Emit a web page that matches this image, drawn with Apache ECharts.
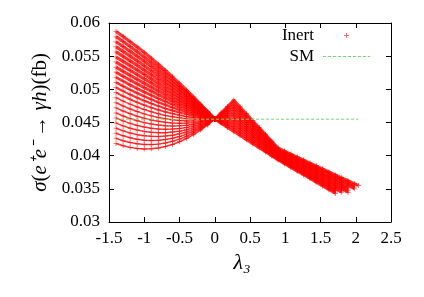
<!DOCTYPE html>
<html><head><meta charset="utf-8">
<script src="https://cdn.jsdelivr.net/npm/echarts@6/dist/echarts.min.js"></script>
<style>html,body{margin:0;padding:0;background:#fff}#c{width:424px;height:297px}</style>
</head><body><div id="c"></div>
<script>
// ---- data ----
const X_TICK_LABELS = ['-1.5','-1','-0.5','0','0.5','1','1.5','2','2.5'];
const Y_TICK_LABELS = ['0.03','0.035','0.04','0.045','0.05','0.055','0.06'];
const CENTER = [0, 0.0455];
// left family (lambda3 < 0): one row per lambda3 value, one entry per scan curve
const LEFT_X = [-1.4,-1.3,-1.2,-1.1,-1.0,-0.9,-0.8,-0.7,-0.6,-0.5,-0.4,-0.3,-0.2,-0.1];
const LEFT_Y = [
 [0.04184,0.04261,0.04338,0.04414,0.04491,0.04568,0.04644,0.04721,0.04797,0.04874,0.04951,0.05027,0.05104,0.05181,0.05257,0.05334,0.05411,0.05487,0.05564,0.05641,0.05717,0.05794,0.05871],
 [0.04150,0.04225,0.04299,0.04374,0.04449,0.04524,0.04599,0.04674,0.04748,0.04823,0.04898,0.04973,0.05048,0.05123,0.05197,0.05272,0.05347,0.05422,0.05497,0.05571,0.05646,0.05721,0.05796],
 [0.04125,0.04197,0.04269,0.04342,0.04414,0.04487,0.04559,0.04632,0.04704,0.04777,0.04849,0.04921,0.04994,0.05066,0.05139,0.05211,0.05284,0.05356,0.05429,0.05501,0.05573,0.05646,0.05718],
 [0.04109,0.04178,0.04248,0.04317,0.04387,0.04456,0.04526,0.04595,0.04665,0.04734,0.04804,0.04873,0.04943,0.05012,0.05082,0.05151,0.05221,0.05290,0.05360,0.05429,0.05499,0.05568,0.05638],
 [0.04102,0.04168,0.04234,0.04300,0.04366,0.04432,0.04498,0.04564,0.04630,0.04696,0.04762,0.04828,0.04894,0.04960,0.05026,0.05092,0.05158,0.05224,0.05290,0.05356,0.05422,0.05488,0.05554],
 [0.04105,0.04167,0.04229,0.04291,0.04353,0.04414,0.04476,0.04538,0.04600,0.04662,0.04724,0.04786,0.04848,0.04910,0.04972,0.05034,0.05096,0.05158,0.05220,0.05281,0.05343,0.05405,0.05467],
 [0.04117,0.04174,0.04232,0.04289,0.04346,0.04403,0.04461,0.04518,0.04575,0.04633,0.04690,0.04747,0.04805,0.04862,0.04919,0.04976,0.05034,0.05091,0.05148,0.05206,0.05263,0.05320,0.05378],
 [0.04138,0.04190,0.04243,0.04295,0.04347,0.04399,0.04451,0.04503,0.04555,0.04607,0.04659,0.04712,0.04764,0.04816,0.04868,0.04920,0.04972,0.05024,0.05076,0.05128,0.05181,0.05233,0.05285],
 [0.04169,0.04216,0.04262,0.04308,0.04355,0.04401,0.04447,0.04494,0.04540,0.04586,0.04633,0.04679,0.04725,0.04772,0.04818,0.04864,0.04911,0.04957,0.05004,0.05050,0.05096,0.05143,0.05189],
 [0.04209,0.04249,0.04289,0.04329,0.04369,0.04410,0.04450,0.04490,0.04530,0.04570,0.04610,0.04650,0.04690,0.04730,0.04770,0.04810,0.04850,0.04890,0.04930,0.04970,0.05010,0.05050,0.05090],
 [0.04259,0.04292,0.04325,0.04358,0.04391,0.04425,0.04458,0.04491,0.04524,0.04557,0.04590,0.04623,0.04657,0.04690,0.04723,0.04756,0.04789,0.04822,0.04856,0.04889,0.04922,0.04955,0.04988],
 [0.04318,0.04343,0.04369,0.04395,0.04420,0.04446,0.04472,0.04498,0.04523,0.04549,0.04575,0.04600,0.04626,0.04652,0.04677,0.04703,0.04729,0.04755,0.04780,0.04806,0.04832,0.04857,0.04883],
 [0.04386,0.04403,0.04421,0.04439,0.04457,0.04474,0.04492,0.04510,0.04527,0.04545,0.04563,0.04580,0.04598,0.04616,0.04634,0.04651,0.04669,0.04687,0.04704,0.04722,0.04740,0.04757,0.04775],
 [0.04463,0.04472,0.04482,0.04491,0.04500,0.04509,0.04518,0.04527,0.04536,0.04545,0.04555,0.04564,0.04573,0.04582,0.04591,0.04600,0.04609,0.04618,0.04628,0.04637,0.04646,0.04655,0.04664]
];
// right family (lambda3 > 0): one row per scan curve, one entry per lambda3 value
const RIGHT_X = [0,0.09,0.18,0.27,0.36,0.45,0.54,0.63,0.72,0.81,0.90,0.99,1.08,1.17,1.26,1.35,1.44,1.53,1.62,1.71,1.80,1.89,1.98,2.04];
const RIGHT_Y = [
 [0.0455,0.04487,0.04424,0.04361,0.04300,0.04239,0.04177,0.04116,0.04055,0.03994,0.03933,0.03877,0.03821,0.03765,0.03709,0.03654,0.03598,0.03542,0.03486,0.03430,null,null,null,null],
 [0.0455,0.04500,0.04451,0.04401,0.04336,0.04272,0.04207,0.04142,0.04077,0.04013,0.03948,0.03893,0.03838,0.03783,0.03728,0.03674,0.03619,0.03564,0.03509,0.03454,null,null,null,null],
 [0.0455,0.04514,0.04477,0.04441,0.04373,0.04304,0.04236,0.04168,0.04100,0.04031,0.03963,0.03909,0.03855,0.03801,0.03747,0.03693,0.03640,0.03586,0.03532,0.03478,null,null,null,null],
 [0.0455,0.04527,0.04504,0.04481,0.04409,0.04337,0.04265,0.04194,0.04122,0.04050,0.03978,0.03925,0.03872,0.03819,0.03766,0.03713,0.03660,0.03607,0.03554,0.03501,0.03448,null,null,null],
 [0.0455,0.04540,0.04530,0.04521,0.04445,0.04370,0.04295,0.04220,0.04144,0.04069,0.03994,0.03942,0.03889,0.03837,0.03785,0.03733,0.03681,0.03629,0.03577,0.03525,0.03473,null,null,null],
 [0.0455,0.04554,0.04557,0.04561,0.04482,0.04403,0.04324,0.04245,0.04167,0.04088,0.04009,0.03958,0.03907,0.03855,0.03804,0.03753,0.03702,0.03651,0.03600,0.03549,0.03497,0.03446,null,null],
 [0.0455,0.04567,0.04584,0.04601,0.04518,0.04436,0.04354,0.04271,0.04189,0.04106,0.04024,0.03974,0.03924,0.03873,0.03823,0.03773,0.03723,0.03673,0.03622,0.03572,0.03522,0.03472,null,null],
 [0.0455,0.04580,0.04610,0.04640,0.04555,0.04469,0.04383,0.04297,0.04211,0.04125,0.04039,0.03990,0.03941,0.03891,0.03842,0.03793,0.03744,0.03694,0.03645,0.03596,0.03546,0.03497,null,null],
 [0.0455,0.04593,0.04637,0.04680,0.04591,0.04502,0.04412,0.04323,0.04233,0.04144,0.04055,0.04006,0.03958,0.03909,0.03861,0.03813,0.03764,0.03716,0.03668,0.03619,0.03571,0.03523,null,null],
 [0.0455,0.04607,0.04664,0.04720,0.04627,0.04534,0.04441,0.04349,0.04256,0.04163,0.04070,0.04022,0.03975,0.03927,0.03880,0.03833,0.03785,0.03738,0.03690,0.03643,0.03595,0.03548,0.03501,null],
 [0.0455,0.04620,0.04690,0.04760,0.04664,0.04567,0.04471,0.04374,0.04278,0.04182,0.04085,0.04039,0.03992,0.03946,0.03899,0.03853,0.03806,0.03760,0.03713,0.03667,0.03620,0.03574,0.03527,null],
 [0.0455,0.04633,0.04717,0.04800,0.04700,0.04600,0.04500,0.04400,0.04300,0.04200,0.04100,0.04055,0.04009,0.03964,0.03918,0.03872,0.03827,0.03781,0.03736,0.03690,0.03645,0.03599,0.03553,null],
 [0.0455,0.04647,0.04743,0.04840,0.04737,0.04633,0.04530,0.04426,0.04323,0.04219,0.04116,0.04071,0.04026,0.03982,0.03937,0.03892,0.03848,0.03803,0.03758,0.03714,0.03669,0.03625,0.03580,0.03551]
];
const SM_X = [-1.4, 2.04];
const SM_Y = [0.0455, 0.0455];

// ---- chart ----
const FONT = 'Liberation Serif';
const PLUS = 'path://M0,2h5v1h-5z M2,0h1v5h-1z';
function inertSeries(data, width) {
  return {
    name: 'Inert', type: 'line', data: data, symbol: PLUS, symbolSize: 5,
    showSymbol: true, silent: true, z: 2,
    lineStyle: { color: 'rgba(255,0,0,0.8)', width: width },
    itemStyle: { color: 'rgba(255,0,0,0.55)' }
  };
}
const series = [];
const nLeft = LEFT_Y[0].length;
for (let k = 0; k < nLeft; k++) {
  const data = LEFT_X.map((x, i) => [x, LEFT_Y[i][k]]);
  data.push(CENTER.slice());
  // stroke widens toward the top of the fan, where the reference is solid
  const w = k < 10 ? 1.5 : (k < 15 ? 1.5 + (k - 9) * 0.3 : 3.2);
  series.push(inertSeries(data, w));
}
RIGHT_Y.forEach(row => {
  const data = [];
  row.forEach((y, i) => { if (y !== null) data.push([RIGHT_X[i], y]); });
  series.push(inertSeries(data, 2.6));
});
series.push({
  name: 'SM', type: 'line', symbol: 'none', silent: true, z: 5,
  data: SM_X.map((x, i) => [x, SM_Y[i]]),
  lineStyle: { color: '#6edc6e', width: 1, type: [3, 2] },
  itemStyle: { color: '#6edc6e' }
});

// legend icons (styling only)
let smIcon = 'path://M0,0M47,14';
for (let x = 0; x < 47; x += 5) { const w = Math.min(3, 47 - x); smIcon += 'M' + x + ',6.5h' + w + 'v1h-' + w + 'z'; }
const inertIcon = 'path://M0,0M47,14M21,6.5h5v1h-5zM23,4.5h1v5h-1z';

const axisCommon = {
  type: 'value', splitLine: { show: false },
  axisLine: { show: true, onZero: false, lineStyle: { color: '#000', width: 1 } },
  axisTick: { show: true, inside: true, length: 5, lineStyle: { color: '#000', width: 1 } }
};
const xFmt = v => X_TICK_LABELS[Math.round((v + 1.5) / 0.5)];
const yFmt = v => Y_TICK_LABELS[Math.round((v - 0.03) / 0.005)];

const chart = echarts.init(document.getElementById('c'), null, { renderer: 'canvas' });
chart.setOption({
  animation: false,
  backgroundColor: '#fff',
  grid: { left: 109, right: 33, top: 23, bottom: 75 },
  legend: {
    orient: 'vertical', right: 49, top: 22, align: 'right',
    itemWidth: 47, itemHeight: 14, itemGap: 4, selectedMode: false,
    textStyle: { fontFamily: FONT, fontSize: 17, color: '#000', padding: [0, 4, 0, 0] },
    data: [
      { name: 'Inert', icon: inertIcon, itemStyle: { color: 'rgba(255,0,0,0.6)' } },
      { name: 'SM', icon: smIcon, itemStyle: { color: '#6edc6e' } }
    ]
  },
  xAxis: [
    Object.assign({}, axisCommon, {
      position: 'bottom', min: -1.5, max: 2.5, interval: 0.5,
      axisLabel: { formatter: xFmt, fontFamily: FONT, fontSize: 17, color: '#000', margin: 8 },
      name: 'λ₃', nameLocation: 'middle', nameGap: 26,
      nameTextStyle: { fontFamily: FONT, fontStyle: 'italic', fontSize: 22, color: '#000', padding: [0, 16, 0, 0] }
    }),
    Object.assign({}, axisCommon, {
      position: 'top', min: -1.5, max: 2.5, interval: 0.5, axisLabel: { show: false }
    })
  ],
  yAxis: [
    Object.assign({}, axisCommon, {
      position: 'left', min: 0.03, max: 0.06, interval: 0.005,
      axisLabel: { formatter: yFmt, fontFamily: FONT, fontSize: 17, color: '#000', margin: 9 },
      name: '{i|σ}{r|(}{i|e⁺e⁻}{r| → }{i|γh}{r|)(fb)}', nameLocation: 'middle', nameGap: 58, nameRotate: 90,
      nameTextStyle: {
        color: '#000',
        rich: {
          i: { fontFamily: FONT, fontStyle: 'italic', fontSize: 21, color: '#000' },
          r: { fontFamily: FONT, fontSize: 21, color: '#000' }
        }
      }
    }),
    Object.assign({}, axisCommon, {
      position: 'right', min: 0.03, max: 0.06, interval: 0.005, axisLabel: { show: false }
    })
  ],
  series: series
});
</script>
</body></html>
